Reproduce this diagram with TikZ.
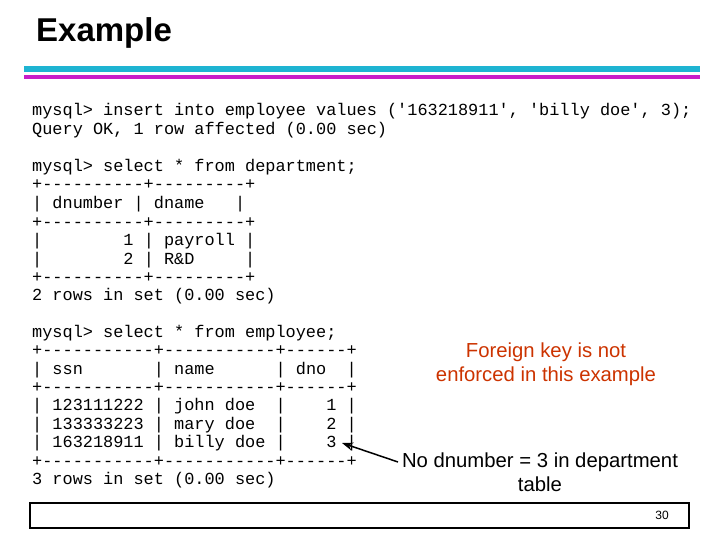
\documentclass[tikz,border=0pt]{standalone}
\usepackage{fontspec}
\usetikzlibrary{arrows.meta}
\setmainfont{Liberation Sans}
\newfontfamily\monof{Liberation Mono}
\definecolor{barc}{HTML}{1EB4D2}
\definecolor{barm}{HTML}{C81EC8}
\definecolor{fkred}{HTML}{CC3300}
\begin{document}
\begin{tikzpicture}[x=1pt,y=-1pt,
  code/.style={anchor=base west,inner sep=0pt,font=\monof\fontsize{16.9}{18}\selectfont},
  note/.style={align=center,inner sep=0pt,font=\fontsize{20.3}{24}\selectfont}]
\useasboundingbox (0,0) rectangle (720,540);
\node[anchor=west,inner sep=0pt,font=\bfseries\fontsize{33}{35}\selectfont] (title) at (36,33) {Example};
\fill[barc] (24,66) rectangle (700,72);
\fill[barm] (24,75) rectangle (700,79.5);
\foreach \y/\t [count=\i] in {
 116/{mysql> insert into employee values ('163218911', 'billy doe', 3);},
 135/{Query OK, 1 row affected (0.00 sec)},
 172/{mysql> select * from department;},
 190/{+----------+---------+},
 209/{| dnumber~| dname~~~|},
 227/{+----------+---------+},
 245/{|~~~~~~~~1 | payroll |},
 264/{|~~~~~~~~2 | R\&D~~~~~|},
 282/{+----------+---------+},
 300/{2 rows in set (0.00 sec)},
 337/{mysql> select * from employee;},
 355/{+-----------+-----------+------+},
 374/{| ssn~~~~~~~| name~~~~~~| dno~~|},
 392/{+-----------+-----------+------+},
 410/{| 123111222 | john doe~~|~~~~1 |},
 429/{| 133333223 | mary doe~~|~~~~2 |},
 447/{| 163218911 | billy doe |~~~~3 |},
 466/{+-----------+-----------+------+},
 484/{3 rows in set (0.00 sec)}}
  \node[code] (l\i) at (32,\y) {\t};
\node[note,text=fkred] (fk) at (546,364) {Foreign key is not\\enforced in this example};
\node[note] (nd) at (540,472) {No dnumber = 3 in department\\table};
\coordinate (tip) at (342,443);
\coordinate (s) at (398,462);
\draw[line width=1.5pt,-{Stealth[length=11pt,width=8pt]}] (s) -- (tip);
\node[draw,line width=1.5pt,minimum width=659pt,minimum height=25pt,inner sep=0pt] (foot) at (359.5,515.5) {};
\node[anchor=center,font=\fontsize{12}{14}\selectfont] (pg) at (662,515.5) {30};
\end{tikzpicture}
\end{document}
